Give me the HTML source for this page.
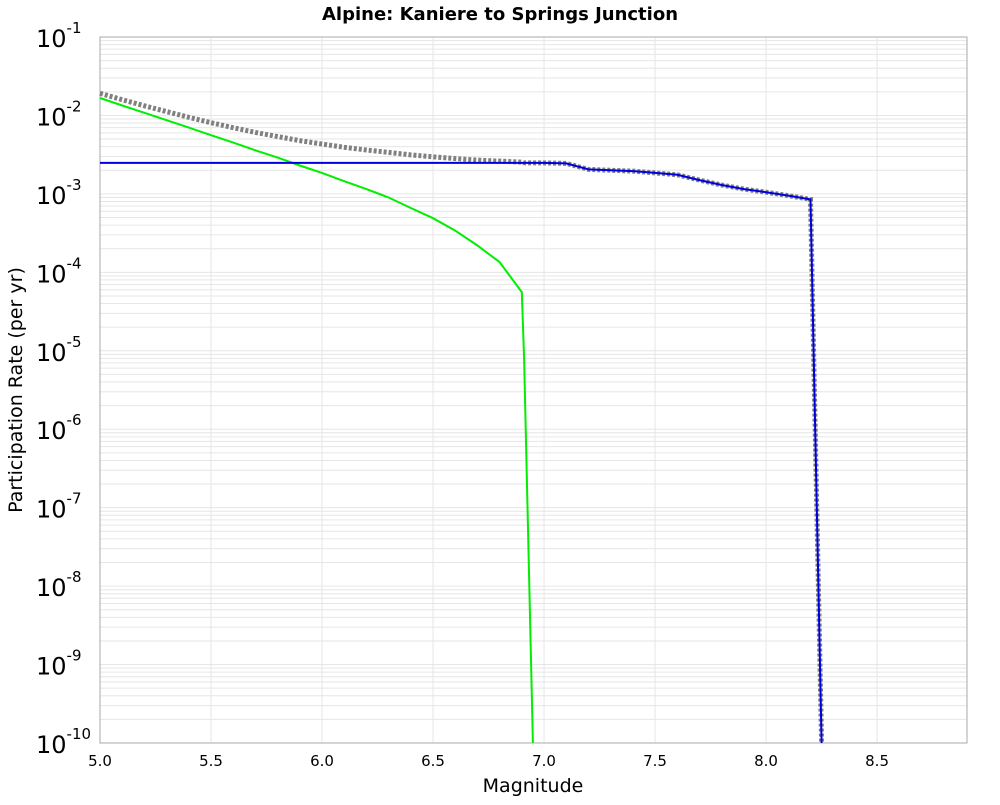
<!DOCTYPE html>
<html><head><meta charset="utf-8"><style>
body{margin:0;background:#fff;font-family:"Liberation Sans","DejaVu Sans",sans-serif}
svg text{font-family:"DejaVu Sans","Liberation Sans",sans-serif}
</style></head><body>
<svg id="chart" width="1000" height="800" xmlns="http://www.w3.org/2000/svg">
<text x="500" y="20" text-anchor="middle" font-size="18" font-weight="bold">Alpine: Kaniere to Springs Junction</text>
<g id="grid"></g>
<rect x="100" y="37" width="867" height="706" fill="none" stroke="#aaa"/>
<g id="xt"></g>
<g id="yt"></g>
<g id="series"></g>
<text x="533" y="792" text-anchor="middle" font-size="19">Magnitude</text>
<text transform="translate(22,390) rotate(-90)" text-anchor="middle" font-size="19">Participation Rate (per yr)</text>
</svg>
<script>
const xTicks=[5.0,5.5,6.0,6.5,7.0,7.5,8.0,8.5];
const yExps=[-1,-2,-3,-4,-5,-6,-7,-8,-9,-10];
const greenMags=[5.0,5.1,5.2,5.3,5.4,5.5,5.6,5.7,5.8,5.9,6.0,6.1,6.2,6.3,6.4,6.5,6.6,6.7,6.8,6.9,6.91,6.95];
const greenRates=[1.67e-2,1.34e-2,1.08e-2,8.7e-3,7.0e-3,5.6e-3,4.5e-3,3.6e-3,2.9e-3,2.3e-3,1.85e-3,1.45e-3,1.15e-3,9.0e-4,6.6e-4,4.9e-4,3.4e-4,2.2e-4,1.35e-4,5.6e-5,8e-6,1e-10];
const blueMags=[5.0,7.0,7.1,7.2,7.3,7.4,7.5,7.6,7.7,7.8,7.9,8.0,8.1,8.2,8.25];
const blueRates=[2.48e-3,2.48e-3,2.45e-3,2.05e-3,2.0e-3,1.95e-3,1.85e-3,1.75e-3,1.5e-3,1.3e-3,1.15e-3,1.05e-3,9.5e-4,8.5e-4,1e-10];
const X0=100,X1=967,Y0=37,Y1=743,xmin=5.0,xmax=8.905,lmax=-1,lmin=-10;
const sx=m=>X0+(m-xmin)/(xmax-xmin)*(X1-X0);
const sy=v=>Y0+(lmax-Math.log10(Math.max(v,1e-10)))/(lmax-lmin)*(Y1-Y0);
const NS="http://www.w3.org/2000/svg";
function mk(t,p,a){const e=document.createElementNS(NS,t);for(const k in a)e.setAttribute(k,a[k]);p.appendChild(e);return e;}
const grid=document.getElementById('grid'),xt=document.getElementById('xt'),yt=document.getElementById('yt'),ser=document.getElementById('series');
for(let e=-10;e<-1;e++){for(let k=1;k<10;k++){const y=sy(k*Math.pow(10,e));
const l=mk('line',grid,{x1:X0,x2:X1,y1:y,y2:y,stroke:'#e6e6e6','stroke-width':1});

}}
xTicks.forEach(m=>{const x=sx(m);
const l=mk('line',grid,{x1:x,x2:x,y1:Y0,y2:Y1,stroke:'#e6e6e6','stroke-width':1});


const t=mk('text',xt,{x:x,y:766,'text-anchor':'middle','font-size':15});t.textContent=m.toFixed(1);

});
yExps.forEach(e=>{const y=sy(Math.pow(10,e));
const t=mk('text',yt,{x:36,y:y+10,'font-size':24});


t.textContent='10';const s=mk('tspan',t,{dy:-14,'font-size':15});s.textContent=String(e);});
function interp(ms,rs,m){if(m<ms[0]||m>ms[ms.length-1])return 0;for(let i=0;i<ms.length-1;i++){if(m>=ms[i]&&m<=ms[i+1]){const f=(m-ms[i])/(ms[i+1]-ms[i]);return Math.pow(10,Math.log10(rs[i])*(1-f)+Math.log10(rs[i+1])*f);}}return rs[rs.length-1];}
const allM=[...new Set([...greenMags,...blueMags])].sort((a,b)=>a-b);
const totMags=allM, totRates=allM.map(m=>interp(greenMags,greenRates,m)+interp(blueMags,blueRates,m));
function path(ms,rs){return ms.map((m,i)=>(i?'L':'M')+sx(m).toFixed(1)+','+sy(rs[i]).toFixed(1)).join('');}
const pt=mk('path',ser,{d:path(totMags,totRates),fill:'none',stroke:'#808080','stroke-width':5,'stroke-dasharray':'3,2'});


const pg=mk('path',ser,{d:path(greenMags,greenRates),fill:'none',stroke:'#00ee00','stroke-width':2});


const pb=mk('path',ser,{d:path(blueMags,blueRates),fill:'none',stroke:'#0000dd','stroke-width':2});


</script>
</body></html>
